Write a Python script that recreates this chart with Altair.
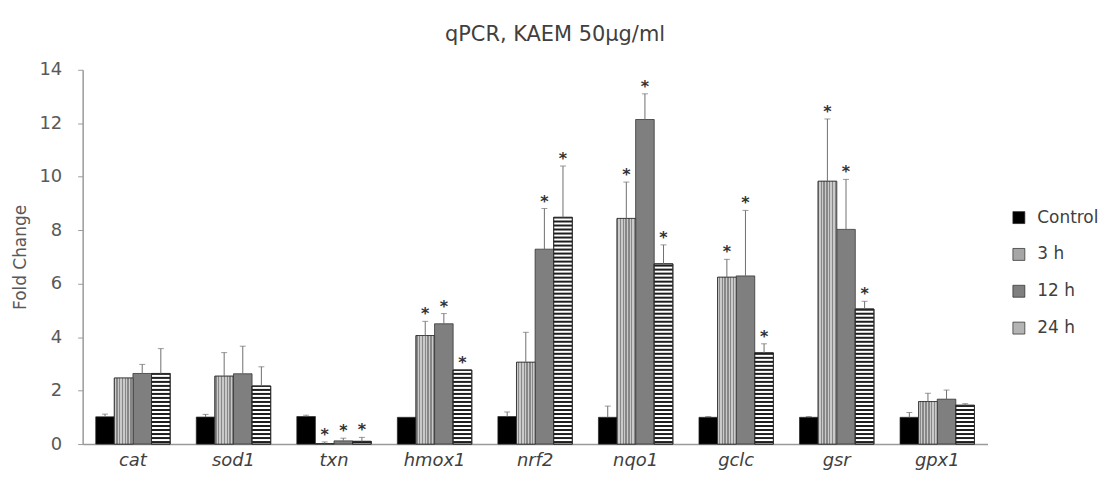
import altair as alt
import pandas as pd

# ---- data ----
genes = ["cat", "sod1", "txn", "hmox1", "nrf2", "nqo1", "gclc", "gsr", "gpx1"]
series = ["Control", "3 h", "12 h", "24 h"]

control = [1.02, 1.01, 1.03, 1.00, 1.03, 1.00, 1.00, 1.00, 1.00]
control_err = [0.10, 0.10, 0.05, 0.00, 0.17, 0.42, 0.03, 0.03, 0.18]
h3 = [2.47, 2.54, 0.02, 4.06, 3.06, 8.44, 6.24, 9.83, 1.59]
h3_err = [0.00, 0.88, 0.06, 0.53, 1.12, 1.36, 0.67, 2.33, 0.31]
h12 = [2.64, 2.63, 0.12, 4.50, 7.29, 12.14, 6.29, 8.03, 1.68]
h12_err = [0.34, 1.03, 0.10, 0.38, 1.52, 0.96, 2.45, 1.87, 0.34]
h24 = [2.64, 2.17, 0.10, 2.77, 8.48, 6.74, 3.41, 5.05, 1.45]
h24_err = [0.93, 0.72, 0.15, 0.00, 1.92, 0.71, 0.34, 0.29, 0.06]
sig_control = [0, 0, 0, 0, 0, 0, 0, 0, 0]
sig3 = [0, 0, 1, 1, 0, 1, 1, 1, 0]
sig12 = [0, 0, 1, 1, 1, 1, 1, 1, 0]
sig24 = [0, 0, 1, 1, 1, 1, 1, 1, 0]

values = [control, h3, h12, h24]
errors = [control_err, h3_err, h12_err, h24_err]
sigs = [sig_control, sig3, sig12, sig24]

rows = []
for s, vals, errs, sg in zip(series, values, errors, sigs):
    for g, v, e, k in zip(genes, vals, errs, sg):
        rows.append({"gene": g, "series": s, "value": v, "err": e,
                     "upper": v + e, "sig": k})
df = pd.DataFrame(rows)
err_df = df[df["err"] > 0]
sig_df = df[df["sig"] == 1]

# horizontal hatching for the 24 h bars (derived from the values)
STRIPE = 0.15
stripe_rows = []
for g, v in zip(genes, h24):
    k = 0
    while k * STRIPE < v:
        y0 = k * STRIPE + STRIPE * 0.25
        y1 = min(y0 + STRIPE * 0.5, v)
        if y1 > y0:
            stripe_rows.append({"gene": g, "series": "24 h", "y0": y0, "y1": y1})
        k += 1
stripes = pd.DataFrame(stripe_rows)

# fine texture for the 3 h bars
n = 12
stops = []
for i in range(n):
    a, b, c = i / n, (i + 0.5) / n, (i + 1) / n
    stops += [
        alt.GradientStop(offset=a, color="#888888"),
        alt.GradientStop(offset=b, color="#888888"),
        alt.GradientStop(offset=b, color="#cacaca"),
        alt.GradientStop(offset=c, color="#cacaca"),
    ]
texture = alt.LinearGradient(gradient="linear", stops=stops, x1=0, x2=1, y1=0, y2=0)

FONT = "DejaVu Sans"
x_enc = alt.X(
    "gene:N",
    sort=genes,
    scale=alt.Scale(domain=genes, paddingInner=0.26, paddingOuter=0.13),
    axis=alt.Axis(title=None, labelAngle=0, labelFontStyle="italic",
                  labelFontSize=18, labelColor="#404040", ticks=False,
                  domainColor="#9a9a9a", domainWidth=1.5, labelPadding=8),
)
xo_enc = alt.XOffset("series:N", scale=alt.Scale(domain=series))
y_scale = alt.Scale(domain=[0, 14], nice=False)
y_axis = alt.Axis(title="Fold Change", values=[0, 2, 4, 6, 8, 10, 12, 14],
                  labelFontSize=18, labelColor="#595959", grid=False,
                  tickColor="#9a9a9a", tickSize=5, domainColor="#9a9a9a",
                  domainWidth=1.5, labelPadding=16, titlePadding=10,
                  titleFontSize=17, titleFontWeight="normal",
                  titleColor="#595959")

base = alt.Chart(df).mark_bar(stroke="#262626", strokeWidth=0.7).encode(
    x=x_enc,
    xOffset=xo_enc,
    y=alt.Y("value:Q", scale=y_scale, axis=y_axis),
    color=alt.Color(
        "series:N",
        scale=alt.Scale(domain=series,
                        range=["#000000", "#a6a6a6", "#7f7f7f", "#b4b4b4"]),
        legend=alt.Legend(title=None, orient="none", legendX=932, legendY=140,
                          symbolType="square", symbolSize=144,
                          symbolStrokeColor="#262626", symbolStrokeWidth=0.7,
                          labelFontSize=17, labelColor="#404040",
                          labelOffset=10, rowPadding=19, padding=0),
    ),
)

tex3 = alt.Chart(df).transform_filter(alt.datum.series == "3 h").mark_bar(
    fill=texture, stroke="#262626", strokeWidth=0.7
).encode(x=x_enc, xOffset=xo_enc, y=alt.Y("value:Q", scale=y_scale))

white24 = alt.Chart(df).transform_filter(alt.datum.series == "24 h").mark_bar(
    fill="#ffffff", stroke="#262626", strokeWidth=0.7
).encode(x=x_enc, xOffset=xo_enc, y=alt.Y("value:Q", scale=y_scale))

hatch = alt.Chart(stripes).mark_bar(fill="#1e1e1e").encode(
    x=x_enc, xOffset=xo_enc,
    y=alt.Y("y0:Q", scale=y_scale), y2="y1:Q",
)

outline24 = alt.Chart(df).transform_filter(alt.datum.series == "24 h").mark_bar(
    fillOpacity=0, stroke="#262626", strokeWidth=0.7
).encode(x=x_enc, xOffset=xo_enc, y=alt.Y("value:Q", scale=y_scale))

err_rule = alt.Chart(err_df).mark_rule(color="#6f6f6f", strokeWidth=1).encode(
    x=x_enc, xOffset=xo_enc,
    y=alt.Y("value:Q", scale=y_scale), y2="upper:Q",
)
err_cap = alt.Chart(err_df).mark_tick(color="#6f6f6f", size=6, thickness=1).encode(
    x=x_enc, xOffset=xo_enc, y=alt.Y("upper:Q", scale=y_scale),
)
stars = alt.Chart(sig_df).mark_text(
    text="*", fontSize=16, fontWeight="bold", color="#333333",
    baseline="alphabetic", dy=-2
).encode(x=x_enc, xOffset=xo_enc, y=alt.Y("upper:Q", scale=y_scale))

chart = alt.layer(
    base, tex3, white24, hatch, outline24, err_rule, err_cap, stars
).properties(
    width=909, height=376,
    padding={"left": 3, "top": 15, "right": 0, "bottom": 0},
    title=alt.TitleParams("qPCR, KAEM 50µg/ml", fontSize=21, frame="bounds",
                          fontWeight="normal", color="#404040", offset=16),
).configure(font=FONT).configure_view(strokeWidth=0)

chart.save("out.html", embed_options={"renderer": "svg", "actions": False})
